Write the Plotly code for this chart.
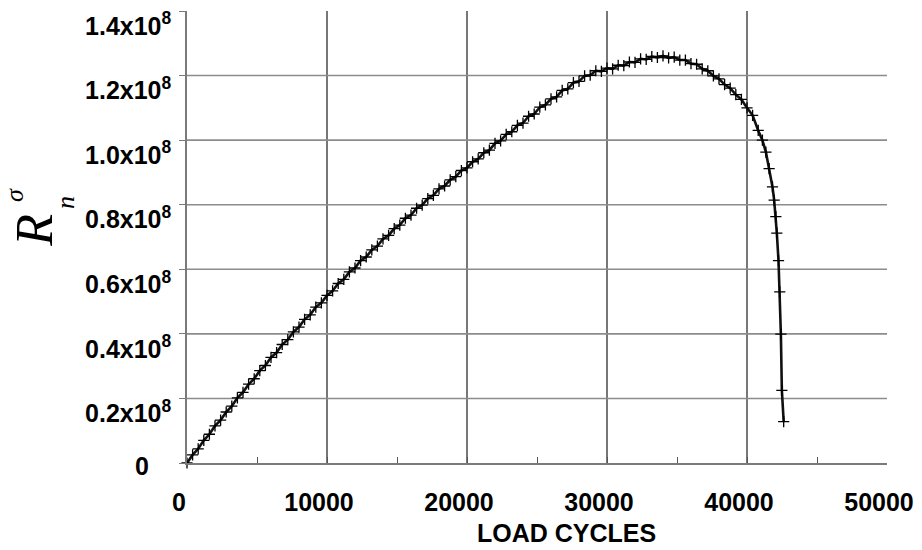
import plotly.graph_objects as go

# ---- data ----
CYCLES = [
    0, 400, 800, 1200, 1600, 2000, 2400, 2800, 3200, 3600,
    4000, 4400, 4800, 5200, 5600, 6000, 6400, 6800, 7200, 7600,
    8000, 8400, 8800, 9200, 9600, 10000, 10400, 10800, 11200, 11600,
    12000, 12400, 12800, 13200, 13600, 14000, 14400, 14800, 15200, 15600,
    16000, 16400, 16800, 17200, 17600, 18000, 18400, 18800, 19200, 19600,
    20000, 20400, 20800, 21200, 21600, 22000, 22400, 22800, 23200, 23600,
    24000, 24400, 24800, 25200, 25600, 26000, 26400, 26800, 27200, 27600,
    28000, 28400, 28800, 29200, 29600, 30000, 30400, 30800, 31200, 31600,
    32000, 32400, 32800, 33200, 33600, 34000, 34400, 34800, 35200, 35600,
    36000, 36400, 36800, 37200, 37600, 38000, 38400, 38800, 39200, 39600,
    40000, 40400, 40800, 41100, 41350, 41580, 41820, 41940, 42060, 42130,
    42250, 42340, 42420, 42490, 42620,
]
R_E8 = [
    0.000, 0.025, 0.044, 0.070, 0.089, 0.115, 0.133, 0.158, 0.176, 0.202,
    0.219, 0.244, 0.261, 0.286, 0.302, 0.327, 0.342, 0.367, 0.382, 0.406,
    0.421, 0.445, 0.459, 0.483, 0.496, 0.519, 0.533, 0.556, 0.569, 0.592,
    0.604, 0.627, 0.638, 0.660, 0.672, 0.694, 0.705, 0.726, 0.737, 0.758,
    0.768, 0.789, 0.799, 0.819, 0.829, 0.849, 0.858, 0.877, 0.887, 0.906,
    0.914, 0.933, 0.942, 0.961, 0.969, 0.990, 0.998, 1.018, 1.026, 1.046,
    1.053, 1.074, 1.081, 1.102, 1.109, 1.128, 1.134, 1.154, 1.159, 1.178,
    1.182, 1.199, 1.201, 1.215, 1.213, 1.223, 1.221, 1.232, 1.231, 1.242,
    1.241, 1.252, 1.250, 1.259, 1.256, 1.261, 1.255, 1.257, 1.248, 1.248,
    1.237, 1.235, 1.221, 1.215, 1.199, 1.190, 1.172, 1.161, 1.141, 1.126,
    1.100, 1.077, 1.030, 1.000, 0.963, 0.912, 0.855, 0.814, 0.763, 0.712,
    0.627, 0.530, 0.399, 0.225, 0.128,
]
R_VALUES = [v * 1e8 for v in R_E8]

X_TICKS = [0, 5000, 10000, 15000, 20000, 25000, 30000, 35000, 40000, 45000, 50000]
X_TICKTEXT = ["0", "", "10000", "", "20000", "", "30000", "", "40000", "", "50000"]
Y_TICKS = [0, 0.2e8, 0.4e8, 0.6e8, 0.8e8, 1.0e8, 1.2e8, 1.4e8]
Y_TICKTEXT = ["", "0.2x10<sup>8</sup>", "0.4x10<sup>8</sup>", "0.6x10<sup>8</sup>",
              "0.8x10<sup>8</sup>", "1.0x10<sup>8</sup>", "1.2x10<sup>8</sup>",
              "1.4x10<sup>8</sup>"]
X_GRID = [10000, 20000, 30000, 40000]
Y_GRID = [0.2e8, 0.4e8, 0.6e8, 0.8e8, 1.0e8, 1.2e8]

SANS = "Liberation Sans"
SERIF = "Liberation Serif"

fig = go.Figure()
fig.add_trace(go.Scatter(
    x=CYCLES, y=R_VALUES, mode="lines+markers",
    line=dict(color="#111111", width=2.6),
    marker=dict(symbol="cross-thin", size=8, color="black",
                line=dict(color="black", width=1.3)),
    cliponaxis=False, showlegend=False,
))

shapes = []
for gx in X_GRID:
    shapes.append(dict(type="line", xref="x", yref="paper", x0=gx, x1=gx, y0=0, y1=1,
                       line=dict(color="#2e2e2e", width=1.3), layer="below"))
for gy in Y_GRID:
    shapes.append(dict(type="line", xref="paper", yref="y", x0=0, x1=1, y0=gy, y1=gy,
                       line=dict(color="#8c8c8c", width=1.6), layer="below"))

W, H = 922, 550
L, R, T, B = 187, 34, 8, 87
PW, PH = W - L - R, H - T - B


def px(xp):
    return (xp - L) / PW


def py(yp):
    return (H - B - yp) / PH


annotations = [
    dict(text="<b>LOAD CYCLES</b>", xref="paper", yref="paper", x=px(567), y=py(533),
         showarrow=False, font=dict(family=SANS, size=25, color="black"),
         xanchor="center", yanchor="middle"),
    dict(text="<b>0</b>", xref="paper", yref="y", x=px(151), y=0, yshift=-3,
         showarrow=False, font=dict(family=SANS, size=25, color="black"),
         xanchor="right", yanchor="middle"),
    dict(text="<i>R</i>", xref="paper", yref="paper", x=px(34), y=py(229),
         showarrow=False, textangle=-90, font=dict(family=SERIF, size=52, color="black"),
         xanchor="center", yanchor="middle"),
    dict(text="<i>σ</i>", xref="paper", yref="paper", x=px(15), y=py(193),
         showarrow=False, textangle=-90, font=dict(family=SERIF, size=26, color="black"),
         xanchor="center", yanchor="middle"),
    dict(text="<i>n</i>", xref="paper", yref="paper", x=px(66), y=py(201),
         showarrow=False, textangle=-90, font=dict(family=SERIF, size=26, color="black"),
         xanchor="center", yanchor="middle"),
]

fig.update_layout(
    width=W, height=H, autosize=False,
    margin=dict(l=L, r=R, t=T, b=B, pad=0),
    paper_bgcolor="white", plot_bgcolor="white",
    shapes=shapes, annotations=annotations,
    xaxis=dict(range=[0, 50000], tickmode="array", tickvals=X_TICKS, ticktext=X_TICKTEXT,
               ticks="inside", ticklen=6, tickcolor="#555555", tickwidth=1.2,
               showgrid=False, zeroline=False, showline=True, linecolor="#7a7a7a",
               linewidth=1.5, ticklabelstandoff=16, ticklabelshift=-8,
               ticklabeloverflow="allow",
               tickfont=dict(family=SANS, size=25, color="black", weight="bold")),
    yaxis=dict(range=[0, 1.4e8], tickmode="array", tickvals=Y_TICKS, ticktext=Y_TICKTEXT,
               ticks="outside", ticklen=6, tickcolor="#7a7a7a", tickwidth=1.2,
               showgrid=False, zeroline=False, showline=True, linecolor="#7a7a7a",
               linewidth=1.5, ticklabelshift=15, ticklabelstandoff=3,
               ticklabeloverflow="allow",
               tickfont=dict(family=SANS, size=25, color="black", weight="bold")),
)

fig.write_html("out.html")
